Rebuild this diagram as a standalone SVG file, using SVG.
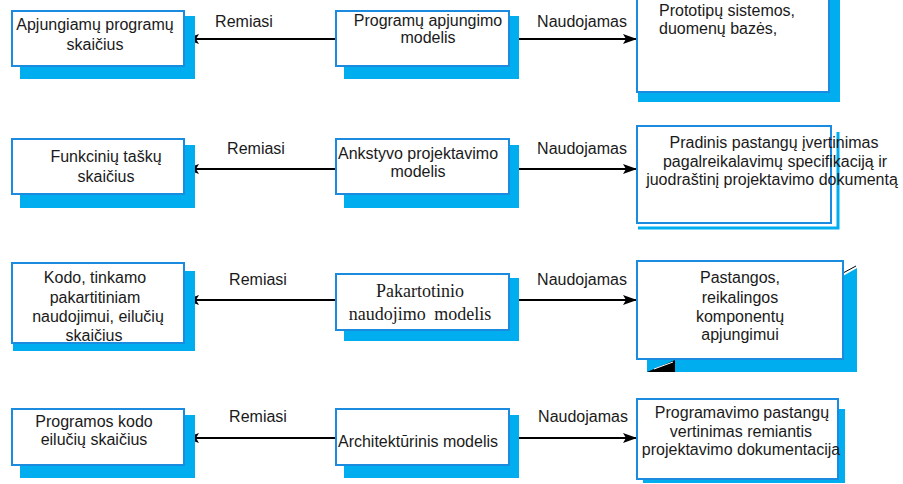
<svg xmlns="http://www.w3.org/2000/svg" width="903" height="484" viewBox="0 0 903 484">
<style>
.box{fill:#fff;stroke:#1B8BE0;stroke-width:2}
.sh{fill:#00AEEF}
.t{font-family:"Liberation Sans",Arial,sans-serif;font-size:16px;fill:#1a1a1a}
.c{text-anchor:middle}
.s{font-family:"Liberation Serif","Times New Roman",serif;font-size:18px;fill:#1a1a1a;text-anchor:middle}
.ln{stroke:#000;stroke-width:2;fill:none}
</style>
<defs>
<marker id="ah" viewBox="0 0 14 10" refX="14" refY="5" markerWidth="14" markerHeight="10" markerUnits="userSpaceOnUse" orient="auto">
<path d="M0,0 L14,5 L0,10 L3,5 Z" fill="#000"/>
</marker>
</defs>
<g id="connectors">
<line class="ln" x1="336" y1="39" x2="185" y2="39" marker-end="url(#ah)"/>
<line class="ln" x1="509" y1="39" x2="637" y2="39" marker-end="url(#ah)"/>
<line class="ln" x1="336" y1="169" x2="185" y2="169" marker-end="url(#ah)"/>
<line class="ln" x1="509" y1="169" x2="637" y2="169" marker-end="url(#ah)"/>
<line class="ln" x1="336" y1="300" x2="185" y2="300" marker-end="url(#ah)"/>
<line class="ln" x1="509" y1="300" x2="637" y2="300" marker-end="url(#ah)"/>
<line class="ln" x1="336" y1="438" x2="185" y2="438" marker-end="url(#ah)"/>
<line class="ln" x1="509" y1="438" x2="637" y2="438" marker-end="url(#ah)"/>
<text class="t c" x="244" y="27">Remiasi</text>
<text class="t c" x="582" y="27">Naudojamas</text>
<text class="t c" x="256" y="154">Remiasi</text>
<text class="t c" x="582" y="154">Naudojamas</text>
<text class="t c" x="258" y="285">Remiasi</text>
<text class="t c" x="582" y="285">Naudojamas</text>
<text class="t c" x="258" y="422">Remiasi</text>
<text class="t c" x="583" y="422">Naudojamas</text>
</g>
<!-- Row 1 -->
<g id="n1l">
<rect class="sh" x="20" y="16" width="175" height="63"/>
<rect class="box" x="12" y="11" width="172" height="55"/>
<text class="t c" x="95" y="30">Apjungiamų programų</text>
<text class="t c" x="95" y="50">skaičius</text>
</g>
<g id="n1m">
<rect class="sh" x="344" y="16" width="175" height="63"/>
<rect class="box" x="336" y="11" width="173" height="55"/>
<text class="t c" x="428" y="26">Programų apjungimo</text>
<text class="t c" x="428" y="43">modelis</text>
</g>
<g id="n1r">
<rect class="sh" x="638" y="0" width="202" height="102"/>
<rect class="box" x="637" y="-4" width="192" height="96"/>
<text class="t" x="659" y="16">Prototipų sistemos,</text>
<text class="t" x="659" y="34">duomenų bazės,</text>
</g>
<!-- Row 2 -->
<g id="n2l">
<rect class="sh" x="20" y="145" width="175" height="63"/>
<rect class="box" x="12" y="139" width="172" height="55"/>
<text class="t c" x="106" y="162">Funkcinių taškų</text>
<text class="t c" x="106" y="182">skaičius</text>
</g>
<g id="n2m">
<rect class="sh" x="344" y="145" width="175" height="63"/>
<rect class="box" x="336" y="139" width="173" height="55"/>
<text class="t c" x="418" y="159">Ankstyvo projektavimo</text>
<text class="t c" x="418" y="177">modelis</text>
</g>
<g id="n2r">
<rect class="box" x="637" y="126" width="194" height="97"/>
<polyline points="838,132 838,228 638,228" fill="none" stroke="#00AEEF" stroke-width="3"/>
<text class="t c" x="774" y="148">Pradinis pastangų įvertinimas</text>
<text class="t c" x="775" y="167">pagalreikalavimų specifikaciją ir</text>
<text class="t c" x="772" y="185">juodraštinį projektavimo dokumentą</text>
</g>
<!-- Row 3 -->
<g id="n3l">
<rect class="sh" x="13" y="271" width="182" height="80"/>
<rect class="box" x="12" y="263" width="172" height="80"/>
<text class="t c" x="95" y="283">Kodo, tinkamo</text>
<text class="t c" x="95" y="303">pakartitiniam</text>
<text class="t c" x="98" y="322">naudojimui, eilučių</text>
<text class="t c" x="94" y="341">skaičius</text>
</g>
<g id="n3m">
<rect class="sh" x="344" y="278" width="175" height="63"/>
<rect class="box" x="336" y="274" width="173" height="56"/>
<text class="s" x="420" y="297">Pakartotinio</text>
<text class="s" x="420" y="320" word-spacing="4">naudojimo modelis</text>
</g>
<g id="n3r">
<polygon class="sh" points="843,276 857,268 857,372 647,372 647,359 843,359"/>
<polygon points="647,372 675,360 675,372" fill="#000"/>
<line x1="654" y1="369" x2="673" y2="362" stroke="#fff" stroke-width="1"/>
<line x1="843" y1="273" x2="856" y2="266" stroke="#000" stroke-width="1"/>
<rect class="box" x="637" y="261" width="206" height="98"/>
<text class="t c" x="740" y="283">Pastangos,</text>
<text class="t c" x="740" y="303">reikalingos</text>
<text class="t c" x="740" y="322">komponentų</text>
<text class="t c" x="740" y="340">apjungimui</text>
</g>
<!-- Row 4 -->
<g id="n4l">
<rect class="sh" x="20" y="415" width="175" height="63"/>
<rect class="box" x="12" y="409" width="172" height="56"/>
<text class="t c" x="94" y="427">Programos kodo</text>
<text class="t c" x="94" y="445">eilučių skaičius</text>
</g>
<g id="n4m">
<rect class="sh" x="344" y="415" width="175" height="63"/>
<rect class="box" x="336" y="409" width="173" height="56"/>
<text class="t c" x="418" y="447">Architektūrinis modelis</text>
</g>
<g id="n4r">
<rect class="sh" x="643" y="409" width="202" height="74"/>
<rect class="box" x="637" y="399" width="201" height="80"/>
<text class="t c" x="742" y="418">Programavimo pastangų</text>
<text class="t c" x="741" y="437">vertinimas remiantis</text>
<text class="t c" x="741" y="455">projektavimo dokumentacija</text>
</g>
</svg>
